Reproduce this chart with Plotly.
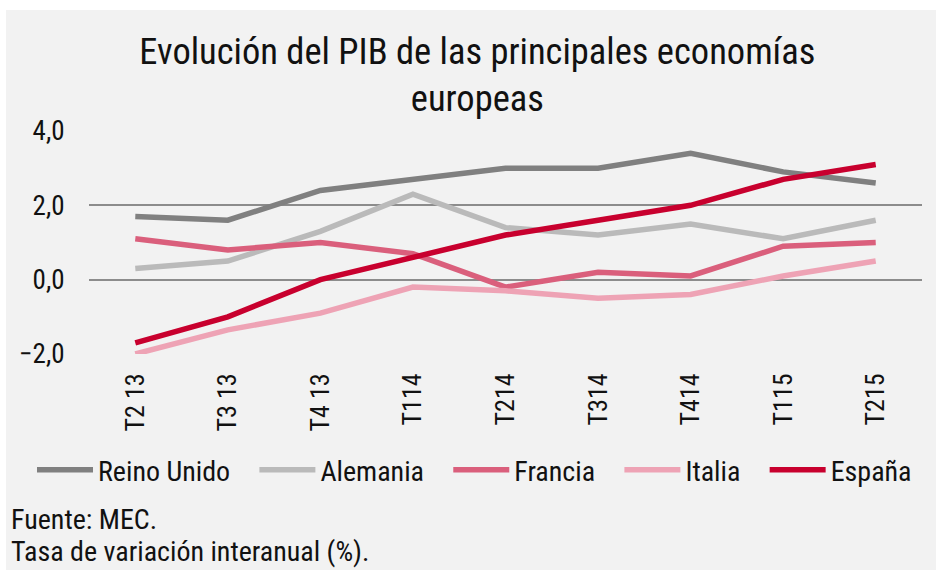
import plotly.graph_objects as go

categories = ["T2 13", "T3 13", "T4 13", "T114", "T214", "T314", "T414", "T115", "T215"]
reino_unido = [1.7, 1.6, 2.4, 2.7, 3.0, 3.0, 3.4, 2.9, 2.6]
alemania = [0.3, 0.5, 1.3, 2.3, 1.4, 1.2, 1.5, 1.1, 1.6]
francia = [1.1, 0.8, 1.0, 0.7, -0.2, 0.2, 0.1, 0.9, 1.0]
italia = [-2.0, -1.35, -0.9, -0.2, -0.3, -0.5, -0.4, 0.1, 0.5]
espana = [-1.7, -1.0, 0.0, 0.6, 1.2, 1.6, 2.0, 2.7, 3.1]
y_ticks = [-2, 0, 2, 4]

series = [
    ("Reino Unido", reino_unido, "#808080"),
    ("Alemania", alemania, "#bababa"),
    ("Francia", francia, "#da5f7c"),
    ("Italia", italia, "#eea3b5"),
    ("España", espana, "#c8002e"),
]

FONT = "Roboto Condensed"
TXT = "#111111"
PAD = "\u00a0\u00a0\u00a0"

fig = go.Figure()
for name, vals, col in series:
    fig.add_trace(go.Scatter(
        x=categories, y=vals, name=name + PAD, mode="lines",
        line=dict(color=col, width=5.5),
        cliponaxis=False,
    ))

W, H = 936, 570
L, R, T, B = 89, 14, 131, 216
pw, ph = W - L - R, H - T - B

fig.update_layout(
    width=W, height=H,
    margin=dict(l=L, r=R, t=T, b=B),
    paper_bgcolor="white",
    plot_bgcolor="#f2f2f2",
    separators=",.",
    font=dict(family=FONT, size=27, color=TXT),
    title=dict(
        text="Evolución del PIB de las principales economías<br>europeas",
        x=0.51, xanchor="center", y=1 - 64 / H, yanchor="top",
        font=dict(family=FONT, size=36.5, color=TXT),
    ),
    showlegend=True,
    legend=dict(
        orientation="h", x=(48 - L) / pw, xanchor="left",
        y=-(470 - (T + ph)) / ph, yanchor="middle",
        font=dict(family=FONT, size=28, color=TXT),
        bgcolor="rgba(0,0,0,0)", itemwidth=56, traceorder="normal",
    ),
    xaxis=dict(
        type="category", range=[-0.5, 8.5], showgrid=False, zeroline=False,
        showline=False, tickangle=-90, ticks="outside", ticklen=8,
        tickcolor="rgba(0,0,0,0)", tickfont=dict(family=FONT, size=26, color=TXT),
    ),
    yaxis=dict(
        range=[-2, 4], tickvals=y_ticks, tickformat=".1f", showgrid=True,
        gridcolor="#8c8c8c", gridwidth=1.5, zeroline=True, zerolinecolor="#8c8c8c",
        zerolinewidth=1.5, showline=False, ticks="outside", ticklen=18,
        tickcolor="rgba(0,0,0,0)", tickfont=dict(family=FONT, size=27, color=TXT),
    ),
)

# grey panel background
fig.add_shape(
    type="rect", xref="paper", yref="paper", layer="below",
    x0=(6 - L) / pw, x1=(W - L) / pw, y0=-(H - T - ph) / ph, y1=(T - 10) / ph + 1,
    fillcolor="#f2f2f2", line=dict(width=0),
)

fig.add_annotation(
    text="Fuente: MEC.", xref="paper", yref="paper", showarrow=False,
    x=(9 - L) / pw, xanchor="left", y=-(519 - (T + ph)) / ph, yanchor="middle",
    font=dict(family=FONT, size=28, color=TXT),
)
fig.add_annotation(
    text="Tasa de variación interanual (%).", xref="paper", yref="paper", showarrow=False,
    x=(9 - L) / pw, xanchor="left", y=-(551 - (T + ph)) / ph, yanchor="middle",
    font=dict(family=FONT, size=28, color=TXT),
)

fig.write_html(
    "out.html",
    config={"displayModeBar": False},
    post_script="document.body.style.margin='0px';document.body.style.overflow='hidden';",
)
